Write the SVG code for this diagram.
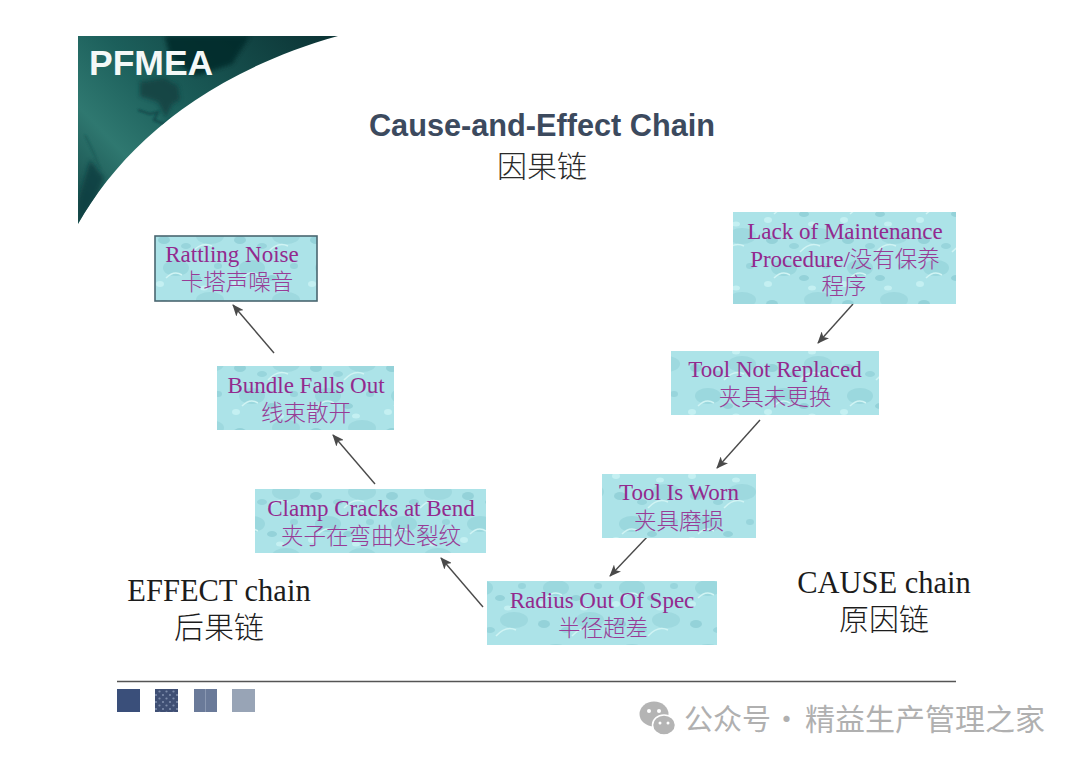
<svg xmlns="http://www.w3.org/2000/svg" width="1080" height="763" viewBox="0 0 1080 763">
<style>
.n{font-family:"Liberation Serif","Noto Sans CJK SC",serif;font-size:23px;fill:#932a8e;text-anchor:middle}
.c{font-family:"Noto Sans CJK SC","Liberation Serif",serif;font-size:22.5px;font-weight:300;fill:#983c96;text-anchor:middle}
.t{font-family:"Noto Sans CJK SC","Liberation Serif",serif;font-size:22.5px;font-weight:300;fill:#983c96}
.b{fill:url(#drops);filter:url(#soft)}
.l{font-family:"Liberation Serif","Noto Sans CJK SC",serif;font-size:30.5px;fill:#1c1c1c;text-anchor:middle}
.lc{font-family:"Noto Sans CJK SC","Liberation Serif",serif;font-size:30px;font-weight:300;fill:#1c1c1c;text-anchor:middle}
.e{stroke:#4a4a4a;stroke-width:1.4;fill:none;marker-end:url(#ah)}
.w{font-family:"Noto Sans CJK SC",sans-serif;fill:#b0b0b0}
</style>
<defs>
<filter id="soft" x="-5%" y="-5%" width="110%" height="110%"><feGaussianBlur stdDeviation="0.7"/></filter>
<filter id="blur3" x="-30%" y="-30%" width="160%" height="160%"><feGaussianBlur stdDeviation="2"/></filter>
<filter id="blur1" x="-30%" y="-30%" width="160%" height="160%"><feGaussianBlur stdDeviation="0.8"/></filter>
<marker id="ah" markerWidth="12" markerHeight="10" refX="11" refY="5" orient="auto" markerUnits="userSpaceOnUse"><path d="M0 0L12 5L0 10L3 5Z" fill="#4a4a4a"/></marker>
<pattern id="drops" width="76" height="64" patternUnits="userSpaceOnUse">
<rect width="76" height="64" fill="#ace3e8"/>
<ellipse cx="24" cy="12" rx="13" ry="8" fill="#9bd8de"/>
<ellipse cx="58" cy="44" rx="14" ry="8" fill="#9ed9df"/>
<ellipse cx="12" cy="48" rx="6" ry="4" fill="#94d2d9"/>
<ellipse cx="44" cy="22" rx="5" ry="3" fill="#94d2d9"/>
<ellipse cx="66" cy="10" rx="4" ry="3" fill="#98d5dc"/>
<ellipse cx="34" cy="54" rx="5" ry="3" fill="#98d5dc"/>
<ellipse cx="8" cy="28" rx="4" ry="3" fill="#c4f0f2"/>
<ellipse cx="52" cy="32" rx="4" ry="2.5" fill="#c4f0f2"/>
<path d="M40 60q10-11 20-6" stroke="#d0f4f4" stroke-width="1.5" fill="none"/>
<path d="M14 22q8-8 16-3" stroke="#d0f4f4" stroke-width="1.5" fill="none"/>
</pattern>
<pattern id="dots" width="7" height="7" patternUnits="userSpaceOnUse"><rect width="7" height="7" fill="#3f4f74"/><circle cx="2" cy="2" r="1.1" fill="#7d8cab"/><circle cx="5.5" cy="5.5" r="1.1" fill="#7d8cab"/></pattern>
<linearGradient id="tg" x1="0" y1="0.8" x2="1" y2="0.1">
<stop offset="0" stop-color="#1c5653"/><stop offset="0.2" stop-color="#2f7870"/><stop offset="0.45" stop-color="#1c5f5b"/><stop offset="1" stop-color="#0c3536"/>
</linearGradient>
<clipPath id="tc"><path d="M78 224C120 150 200 75 338 36H78Z"/></clipPath>
</defs>
<rect width="1080" height="763" fill="#ffffff"/>
<g id="banner">
<path d="M78 224C120 150 200 75 338 36H78Z" fill="url(#tg)"/>
<g clip-path="url(#tc)">
<path d="M140 82l24-4 14 8 2 14-8 4-6 14-8-16-18-6Z" fill="#123f40" opacity="0.8" filter="url(#blur3)"/>
<path d="M138 110l12 4 8-2-4 8 10 4 8-6" stroke="#12484a" stroke-width="2" fill="none" filter="url(#blur1)"/>
<path d="M165 36h85l-18 28-36 12-26-18Z" fill="#062a2a" opacity="0.85" filter="url(#blur3)"/>
<path d="M78 200l12-40 14 18-8 20-18 30Z" fill="#0e3d40" opacity="0.8" filter="url(#blur3)"/>
<path d="M85 135q10 20 15 34" stroke="#1a5a56" stroke-width="1.5" fill="none" filter="url(#blur1)"/>
<path d="M122 186l24-20" stroke="#0f4345" stroke-width="8" opacity="0.5" filter="url(#blur3)"/>
</g>
<text x="89" y="75" font-family="'Liberation Sans',sans-serif" font-size="35.5" font-weight="700" fill="#f4f8f7">PFMEA</text>
</g>
<g id="title">
<text x="542" y="136" font-family="'Liberation Sans',sans-serif" font-size="30.7" font-weight="700" fill="#3c4a5e" text-anchor="middle">Cause-and-Effect Chain</text>
<text x="542" y="177" font-family="'Noto Sans CJK SC',sans-serif" font-size="30" font-weight="300" fill="#2a2a2a" text-anchor="middle">因果链</text>
</g>
<g id="connectors">
<line class="e" x1="274" y1="353" x2="233" y2="305"/>
<line class="e" x1="375" y1="484" x2="333" y2="435"/>
<line class="e" x1="483" y1="607" x2="441" y2="558"/>
<line class="e" x1="853" y1="304" x2="818" y2="343"/>
<line class="e" x1="760" y1="420" x2="717" y2="468"/>
<line class="e" x1="648" y1="536" x2="610" y2="576"/>
</g>
<g id="rattling"><rect class="b" x="155" y="236" width="162" height="65"/><rect x="155" y="236" width="162" height="65" fill="none" stroke="#4a6670" stroke-width="1.6"/><text class="n" x="232" y="262">Rattling Noise</text><text class="c" x="237" y="290">卡塔声噪音</text></g>
<g id="bundle"><rect class="b" x="217" y="366" width="177" height="64"/><text class="n" x="306" y="393">Bundle Falls Out</text><text class="c" x="306" y="421">线束散开</text></g>
<g id="clamp"><rect class="b" x="255" y="489" width="231" height="64"/><text class="n" x="371" y="516">Clamp Cracks at Bend</text><text class="c" x="371" y="544">夹子在弯曲处裂纹</text></g>
<g id="radius"><rect class="b" x="487" y="581" width="230" height="64"/><text class="n" x="602" y="608">Radius Out Of Spec</text><text class="c" x="603" y="636">半径超差</text></g>
<g id="worn"><rect class="b" x="602" y="474" width="154" height="64"/><text class="n" x="679" y="500">Tool Is Worn</text><text class="c" x="679" y="529">夹具磨损</text></g>
<g id="replaced"><rect class="b" x="671" y="351" width="208" height="64"/><text class="n" x="775" y="377">Tool Not Replaced</text><text class="c" x="775" y="405">夹具未更换</text></g>
<g id="lack"><rect class="b" x="733" y="212" width="223" height="92"/><text class="n" x="845" y="239">Lack of Maintenance</text><text class="n" x="845" y="267">Procedure/<tspan class="t">没有保养</tspan></text><text class="c" x="844" y="294">程序</text></g>
<g id="effect-label"><text class="l" x="219" y="601">EFFECT chain</text><text class="lc" x="219" y="638">后果链</text></g>
<g id="cause-label"><text class="l" x="884" y="593">CAUSE chain</text><text class="lc" x="884" y="630">原因链</text></g>
<g id="footer">
<line x1="117" y1="681.500" x2="956" y2="681.500" stroke="#555" stroke-width="1.3"/>
<rect x="117" y="689" width="23" height="23" fill="#3a4f7a"/>
<rect x="155" y="689" width="23" height="23" fill="url(#dots)"/>
<rect x="194" y="689" width="23" height="23" fill="#6a7a99"/><line x1="205.500" y1="689" x2="205.500" y2="712" stroke="#8a98b2" stroke-width="1"/>
<rect x="232" y="689" width="23" height="23" fill="#98a4b6"/>
</g>
<g id="watermark">
<ellipse cx="654" cy="714" rx="14.500" ry="12.500" fill="#b4b4b4"/>
<ellipse cx="664" cy="725" rx="11.500" ry="10" fill="#b4b4b4" stroke="#fff" stroke-width="1.500"/>
<circle cx="649" cy="711" r="2" fill="#fff"/><circle cx="659" cy="711" r="2" fill="#fff"/><circle cx="660" cy="723" r="1.500" fill="#fff"/><circle cx="668" cy="723" r="1.500" fill="#fff"/>
<text class="w" x="684" y="730" font-size="29">公众号</text>
<text class="w" x="772" y="730" font-size="29">·</text>
<text class="w" x="805" y="730" font-size="30">精益生产管理之家</text>
</g>
</svg>
